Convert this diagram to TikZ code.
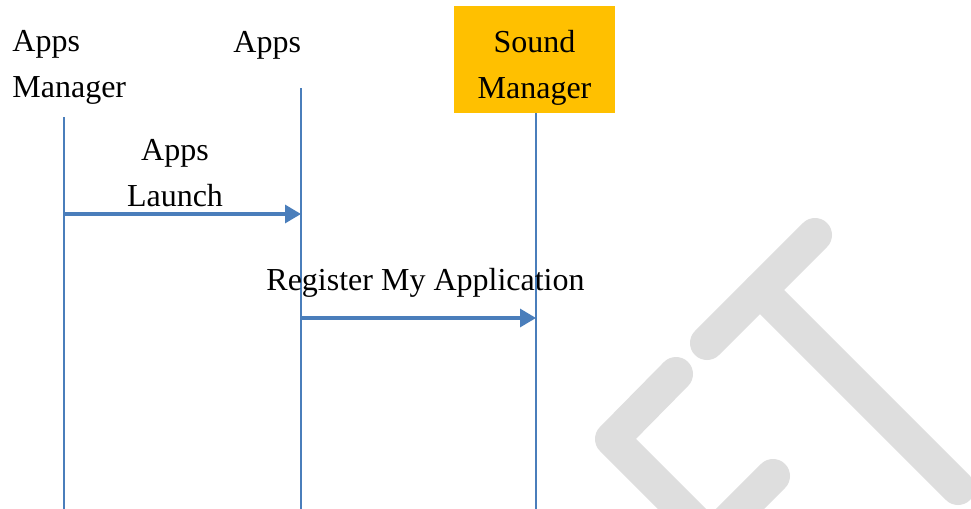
\documentclass[tikz,border=0pt]{standalone}
\usepackage{fontspec}
\setmainfont{Liberation Serif}
\usetikzlibrary{arrows.meta,positioning}
\definecolor{lineblue}{RGB}{74,126,187}
\definecolor{gold}{RGB}{255,192,0}
\definecolor{markgray}{RGB}{222,222,222}
\tikzset{
  txt/.style={inner sep=0, font=\fontsize{16}{23}\selectfont},
  lifeline/.style={draw=lineblue, line width=1pt},
  msg/.style={draw=lineblue, line width=1.6pt, -{Triangle[length=8pt,width=9pt]}},
  wmark/.style={draw=markgray, line width=17pt, line cap=round, line join=round}
}

\begin{document}
\begin{tikzpicture}[x=0.5pt, y=-0.5pt]
  \useasboundingbox (0,0) rectangle (971,509);
  % watermark
  \begin{scope}
    \clip (0,0) rectangle (971,509);
    \draw[wmark] (707,343) -- (815,235);
    \draw[wmark] (760,290) -- (958,488);
    \draw[wmark] (676,374) -- (612,439) -- (702,529);
    \draw[wmark] (773,476) -- (720,529);
  \end{scope}
  % heads
  \node[txt, align=left, anchor=north west] (am) at (12,30) {Apps\\Manager};
  \node[txt, anchor=base west] (ap) at (233,52) {Apps};
  \node[fill=gold, minimum width=80.5pt, minimum height=53.5pt, inner sep=0] (sm) at (534.5,59.5) {};
  \node[txt, align=center, anchor=north] (smlab) at (sm.north |- am.north) {Sound\\Manager};
  % lifelines
  \coordinate (amtop) at (64,117);  \coordinate (ambot) at (64,509);
  \coordinate (aptop) at (301,88);  \coordinate (apbot) at (301,509);
  \coordinate (smbot) at (536,509);
  \draw[lifeline] (amtop) -- (ambot);
  \draw[lifeline] (aptop) -- (apbot);
  \draw[lifeline] (smbot |- sm.south) -- (smbot);
  % messages
  \coordinate (m1) at (0,214);  \coordinate (m2) at (0,318);
  \node[txt, align=center, anchor=south] (launch) at (175,207) {Apps\\Launch};
  \node[txt, anchor=base] (register) at (425.5,290) {Register My Application};
  \draw[msg] (amtop |- m1) -- (aptop |- m1);
  \draw[msg] (aptop |- m2) -- (smbot |- m2);
\end{tikzpicture}
\end{document}
